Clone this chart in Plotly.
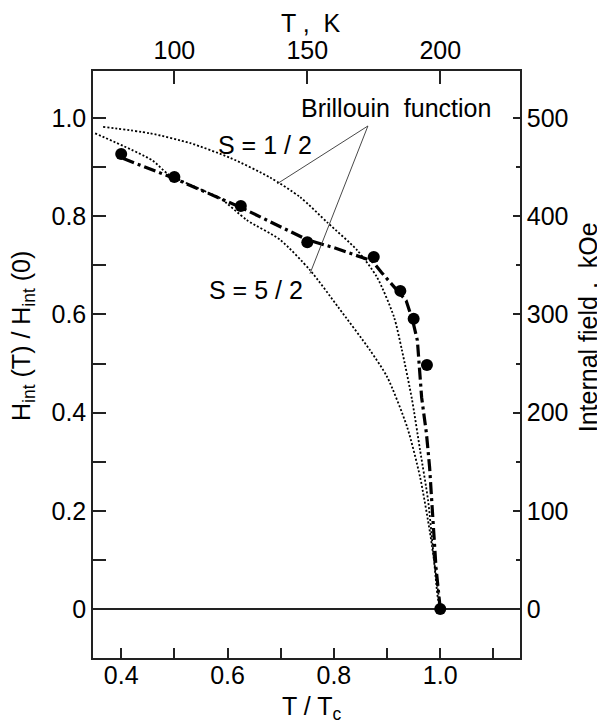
import plotly.graph_objects as go

# ---------------- data ----------------
# measured points (T/Tc, Hint(T)/Hint(0))
t_ratio_pts = [0.4, 0.5, 0.625, 0.75, 0.875, 0.925, 0.95, 0.975, 1.0]
h_ratio_pts = [0.927, 0.880, 0.821, 0.747, 0.717, 0.648, 0.591, 0.497, 0.0]

# dash-dot guide line
guide_t = [0.403, 0.50, 0.625, 0.75, 0.80, 0.872, 0.89, 0.916, 0.936, 0.948,
           0.957, 0.965, 0.974, 0.980, 0.986, 0.992, 1.0]
guide_h = [0.918, 0.877, 0.818, 0.752, 0.736, 0.709, 0.685, 0.654, 0.628, 0.588,
           0.547, 0.431, 0.358, 0.289, 0.187, 0.085, 0.0]

# Brillouin function S = 1/2
s_half_t = [0.366, 0.4545, 0.530, 0.605, 0.680, 0.7365, 0.789, 0.8436, 0.881,
            0.913, 0.928, 0.947, 0.962, 0.977, 0.9865, 0.996, 1.0]
s_half_h = [0.982, 0.969, 0.949, 0.919, 0.879, 0.839, 0.786, 0.731, 0.676,
            0.595, 0.527, 0.426, 0.324, 0.222, 0.120, 0.018, 0.0]

# Brillouin function S = 5/2
s_5half_t = [0.351, 0.4583, 0.4883, 0.5617, 0.5861, 0.6368, 0.6989, 0.7553,
             0.808, 0.868, 0.900, 0.9376, 0.962, 0.9808, 0.994, 1.0]
s_5half_h = [0.969, 0.914, 0.886, 0.849, 0.837, 0.792, 0.752, 0.690,
             0.615, 0.527, 0.473, 0.371, 0.269, 0.155, 0.053, 0.0]

Tc_K = 200.0
H0_kOe = 500.0

x_tickvals = [0.4, 0.6, 0.8, 1.0]
x_ticktext = ["0.4", "0.6", "0.8", "1.0"]
x_minor = [0.5, 0.7, 0.9, 1.1]
y_tickvals = [0, 0.2, 0.4, 0.6, 0.8, 1.0]
y_ticktext = ["0", "0.2", "0.4", "0.6", "0.8", "1.0"]
y_minor = [0.1, 0.3, 0.5, 0.7, 0.9]
top_tickvals = [100, 150, 200]
right_tickvals = [0, 100, 200, 300, 400, 500]
right_minor = [50, 150, 250, 350, 450]

x_range = [0.347, 1.150]
y_range = [-0.1, 1.096]

FONT = "Liberation Sans, Arial, Helvetica, sans-serif"
AX = "#222"

fig = go.Figure()

dot_line = dict(color="black", width=1.8, dash="2px,2px", shape="spline", smoothing=0.7)
fig.add_trace(go.Scatter(x=s_half_t, y=s_half_h, mode="lines", line=dot_line,
                         hoverinfo="skip"))
fig.add_trace(go.Scatter(x=s_5half_t, y=s_5half_h, mode="lines", line=dot_line,
                         hoverinfo="skip"))
fig.add_trace(go.Scatter(x=guide_t, y=guide_h, mode="lines",
                         line=dict(color="black", width=3.2, dash="12px,4px,3px,4px"),
                         hoverinfo="skip"))
fig.add_trace(go.Scatter(x=t_ratio_pts, y=h_ratio_pts, mode="markers",
                         marker=dict(color="black", size=12, line=dict(width=0))))
# same points in K / kOe on the secondary axes (invisible, keeps axes alive)
fig.add_trace(go.Scatter(x=[t * Tc_K for t in t_ratio_pts],
                         y=[h * H0_kOe for h in h_ratio_pts],
                         xaxis="x2", yaxis="y2", mode="markers",
                         marker=dict(opacity=0), hoverinfo="skip"))

common = dict(showgrid=False, showline=True, linecolor=AX, linewidth=1.5,
              tickcolor=AX, tickwidth=1.5, ticks="inside",
              tickfont=dict(family=FONT, size=25, color="black"))

# page body has an 8px default offset; figure is shrunk so nothing overflows
fig.update_layout(
    width=597, height=715,
    margin=dict(l=85, r=85, t=63, b=65, pad=0),
    plot_bgcolor="white", paper_bgcolor="white",
    showlegend=False,
    font=dict(family=FONT, size=25, color="black"),
    xaxis=dict(range=x_range, tickmode="array", tickvals=x_tickvals, ticktext=x_ticktext,
               ticklen=10, zeroline=False, ticklabelstandoff=-6,
               minor=dict(tickmode="array", tickvals=x_minor, ticks="inside", ticklen=10,
                          tickwidth=1.5, tickcolor=AX),
               **common),
    xaxis2=dict(range=[x_range[0] * Tc_K, x_range[1] * Tc_K], overlaying="x", side="top",
                anchor="y", tickmode="array", tickvals=top_tickvals,
                ticktext=[str(v) for v in top_tickvals], ticklen=13, zeroline=False,
                **common),
    yaxis=dict(range=y_range, tickmode="array", tickvals=y_tickvals, ticktext=y_ticktext,
               ticklen=13, zeroline=True, zerolinecolor=AX, zerolinewidth=1.5,
               minor=dict(tickmode="array", tickvals=y_minor, ticks="inside", ticklen=13,
                          tickwidth=1.5, tickcolor=AX),
               **common),
    yaxis2=dict(range=[y_range[0] * H0_kOe, y_range[1] * H0_kOe], overlaying="y",
                side="right", anchor="x", tickmode="array", tickvals=right_tickvals,
                ticktext=[str(v) for v in right_tickvals], ticklen=7, zeroline=False,
                minor=dict(tickmode="array", tickvals=right_minor, ticks="inside", ticklen=4,
                           tickwidth=1.5, tickcolor=AX),
                **common),
)

# leader lines from the label to the two Brillouin curves
fig.add_shape(type="line", xref="x", yref="y", x0=0.864, y0=0.984, x1=0.693, y1=0.866,
              line=dict(color="#333", width=0.9))
fig.add_shape(type="line", xref="x", yref="y", x0=0.864, y0=0.984, x1=0.755, y1=0.683,
              line=dict(color="#333", width=0.9))

ann_font = dict(family=FONT, size=25, color="black")


def label(x, y, text, xref="x", yref="y", angle=0):
    fig.add_annotation(x=x, y=y, xref=xref, yref=yref, text=text, showarrow=False,
                       xanchor="center", yanchor="middle", textangle=angle, font=ann_font)


label(0.917, 1.02, "Brillouin  function")
label(0.671, 0.945, "S = 1 / 2")
label(0.654, 0.650, "S = 5 / 2")

# axis titles (paper coordinates)
label(0.5105, 1.0818, "T ,  K", "paper", "paper")
label(0.5128, -0.085, "T / T<sub>c</sub>", "paper", "paper")
label(-0.164, 0.5486, "H<sub>int</sub> (T) / H<sub>int</sub> (0)", "paper", "paper", -90)
label(1.160, 0.564, "Internal field ,  kOe", "paper", "paper", -90)

fig.write_html("out.html")
